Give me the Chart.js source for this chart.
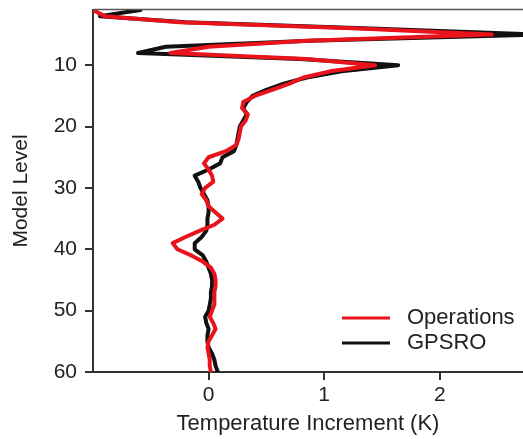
<!DOCTYPE html>
<html>
<head>
<meta charset="utf-8">
<script src="https://cdn.jsdelivr.net/npm/chart.js@4/dist/chart.umd.min.js"></script>
<style>
html,body{margin:0;padding:0;background:#fff;}
#wrap{width:523px;height:439px;}
</style>
</head>
<body>
<div id="wrap"><canvas id="c" width="523" height="439"></canvas></div>
<script>
const levels = [1,2,3,4,5,6,7,8,9,10,11,12,13,14,15,16,17,18,19,20,21,22,23,24,25,26,27,28,29,30,31,32,33,34,35,36,37,38,39,40,41,42,43,44,45,46,47,48,49,50,51,52,53,54,55,56,57,58,59,60];
const operations = [-1.0,-0.9,-0.25,1.3,2.45,0.85,0.0,-0.33,0.85,1.44,1.05,0.82,0.7,0.55,0.4,0.3,0.29,0.34,0.32,0.28,0.27,0.26,0.24,0.15,0.0,-0.04,0.0,0.03,0.04,-0.03,-0.06,-0.02,0.0,0.06,0.12,0.05,-0.08,-0.2,-0.31,-0.27,-0.15,-0.05,0.02,0.05,0.06,0.06,0.05,0.05,0.05,0.03,0.01,0.04,0.06,0.03,0.0,-0.01,0.0,0.01,0.01,0.02];
const gpsro = [-0.59,-0.94,-0.2,1.4,2.87,0.88,-0.37,-0.61,0.79,1.64,1.15,0.85,0.65,0.5,0.38,0.33,0.3,0.33,0.3,0.27,0.26,0.25,0.24,0.22,0.12,0.1,0.0,-0.12,-0.09,-0.07,-0.04,-0.01,0.0,0.0,-0.01,-0.01,-0.02,-0.06,-0.12,-0.12,-0.05,-0.02,0.0,0.02,0.03,0.03,0.02,0.02,0.01,0.0,-0.03,-0.02,0.0,-0.01,-0.01,0.0,0.03,0.05,0.06,0.08];
const xTicks = [0,1,2];
const yTicks = [10,20,30,40,50,60];
const seriesNames = ['Operations','GPSRO'];
const seriesColors = ['#e8131b','#111111'];

const FONT = '"Liberation Sans", Arial, Helvetica, sans-serif';
const TXT = '#222222';
const AX = '#333333';

const toPts = vals => vals.map((v,i)=>({x:v,y:levels[i]}));

const extras = {
  id:'extras',
  afterDraw(chart){
    const ctx = chart.ctx, a = chart.chartArea;
    ctx.save();
    // top frame line
    ctx.strokeStyle = '#555';
    ctx.lineWidth = 1.5;
    ctx.beginPath();
    ctx.moveTo(a.left, a.top - 0.5);
    ctx.lineTo(a.right, a.top - 0.5);
    ctx.stroke();
    // legend
    const ds = chart.data.datasets;
    ctx.font = '22px ' + FONT;
    ctx.textBaseline = 'middle';
    ctx.fillStyle = TXT;
    ds.forEach((d,i)=>{
      const y = a.bottom - 54 + i*25;
      ctx.strokeStyle = d.borderColor;
      ctx.lineWidth = 3;
      ctx.beginPath();
      ctx.moveTo(a.right - 181, y);
      ctx.lineTo(a.right - 133, y);
      ctx.stroke();
      ctx.fillText(d.label, a.right - 116, y);
    });
    ctx.restore();
  }
};

new Chart(document.getElementById('c'), {
  type:'scatter',
  data:{
    datasets:[
      {label:seriesNames[0], data:toPts(operations), showLine:true, borderColor:seriesColors[0], backgroundColor:seriesColors[0], borderWidth:4, pointRadius:0, tension:0, borderJoinStyle:'round', borderCapStyle:'round'},
      {label:seriesNames[1], data:toPts(gpsro), showLine:true, borderColor:seriesColors[1], backgroundColor:seriesColors[1], borderWidth:4, pointRadius:0, tension:0, borderJoinStyle:'round', borderCapStyle:'round'}
    ]
  },
  options:{
    responsive:false,
    animation:false,
    devicePixelRatio:1,
    layout:{padding:{top:10,right:0,left:0,bottom:0}},
    plugins:{legend:{display:false}, tooltip:{enabled:false}},
    scales:{
      x:{
        type:'linear', min:-1.0, max:2.72,
        afterBuildTicks(s){ s.ticks = xTicks.map(v=>({value:v})); },
        afterFit(s){ s.height = 67; s.paddingLeft = 0; s.paddingRight = 0; },
        grid:{display:true, drawOnChartArea:false, drawTicks:true, tickLength:8, color:AX, lineWidth:2},
        border:{display:true, color:AX, width:2},
        ticks:{color:TXT, font:{size:21, family:FONT}, padding:3, maxRotation:0},
        title:{display:true, text:'Temperature Increment (K)', color:TXT, font:{size:22, family:FONT}, padding:{top:0,bottom:2}}
      },
      y:{
        type:'linear', min:1, max:60, reverse:true,
        afterBuildTicks(s){ s.ticks = yTicks.map(v=>({value:v})); },
        afterFit(s){ s.width = 93; s.paddingTop = 0; s.paddingBottom = 0; },
        grid:{display:true, drawOnChartArea:false, drawTicks:true, tickLength:8, color:AX, lineWidth:2},
        border:{display:true, color:AX, width:2},
        ticks:{color:TXT, font:{size:21, family:FONT}, padding:8},
        title:{display:true, text:'Model Level', color:TXT, font:{size:21, family:FONT}, padding:{top:9,bottom:0}}
      }
    }
  },
  plugins:[extras]
});
</script>
</body>
</html>
